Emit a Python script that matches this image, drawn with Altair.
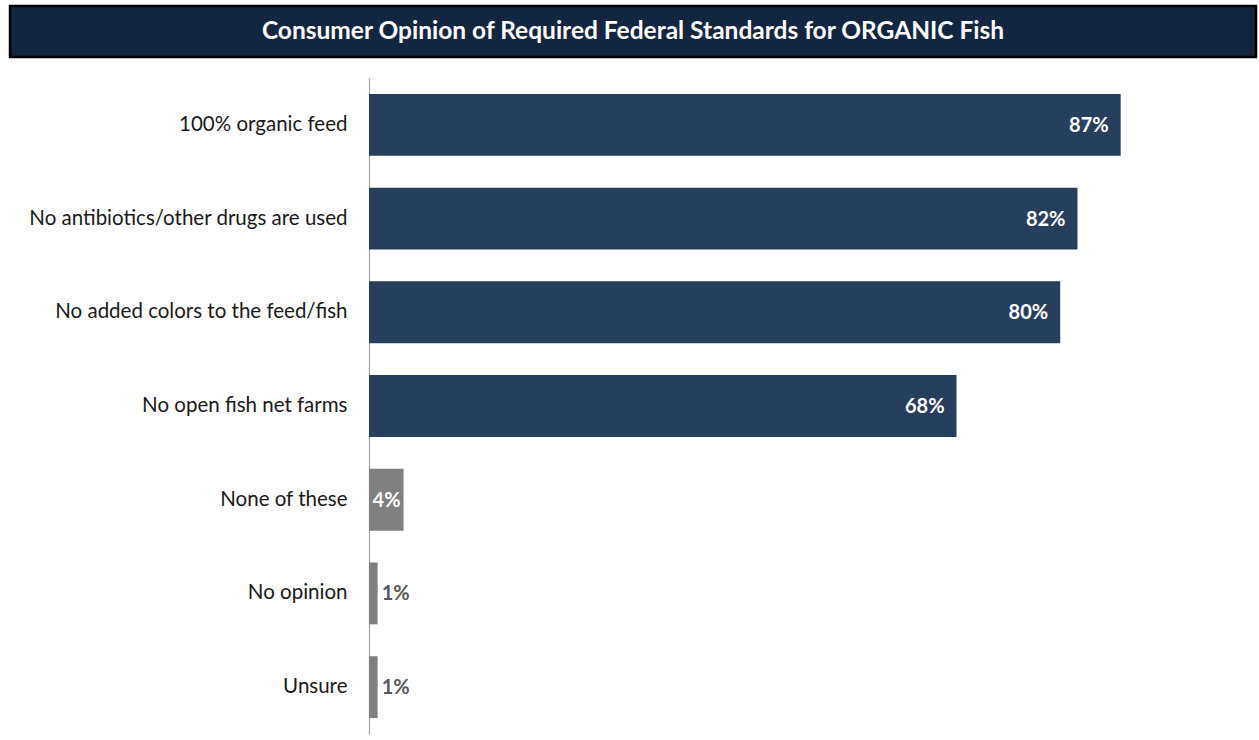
import altair as alt
import pandas as pd

categories = [
    "100% organic feed",
    "No antibiotics/other drugs are used",
    "No added colors to the feed/fish",
    "No open fish net farms",
    "None of these",
    "No opinion",
    "Unsure",
]
values = [87, 82, 80, 68, 4, 1, 1]
groups = ["standard", "standard", "standard", "standard", "other", "other", "other"]
title_text = "Consumer Opinion of Required Federal Standards for ORGANIC Fish"

df = pd.DataFrame({"category": categories, "value": values, "group": groups})
df["label"] = df["value"].astype(str) + "%"

FONT = "Lato"
W, H = 864, 656
LEFT, TOP = 369, 78

y_enc = alt.Y(
    "category:N",
    sort=categories,
    scale=alt.Scale(paddingInner=0.34, paddingOuter=0.17),
    axis=alt.Axis(
        title=None, ticks=False, labelFont=FONT, labelFontSize=20.5,
        labelColor="#1a1a1a", labelPadding=22, domainColor="#A6A6A6",
        domainWidth=1.2, labelLimit=400,
    ),
)
x_enc = alt.X("value:Q", scale=alt.Scale(domain=[0, 100]), axis=None)

base = alt.Chart(df)

bars = base.mark_bar().encode(
    y=y_enc,
    x=x_enc,
    color=alt.Color(
        "group:N",
        scale=alt.Scale(domain=["standard", "other"], range=["#263F5F", "#808080"]),
        legend=None,
    ),
)

yy = alt.Y("category:N", sort=categories)

big_inside = base.transform_filter("datum.value > 4").mark_text(
    align="right", baseline="middle", dx=-12, dy=1, font=FONT, fontSize=20,
    fontWeight="bold", color="white",
).encode(y=yy, x="value:Q", text="label:N")

inside_small = base.transform_filter("datum.value == 4").mark_text(
    align="right", baseline="middle", dx=-3, dy=1, font=FONT, fontSize=20,
    fontWeight="bold", color="white",
).encode(y=yy, x="value:Q", text="label:N")

outside = base.transform_filter("datum.value < 4").mark_text(
    align="left", baseline="middle", dx=4, dy=1, font=FONT, fontSize=20,
    fontWeight="bold", color="#595959",
).encode(y=yy, x="value:Q", text="label:N")

banner = alt.Chart(pd.DataFrame({"t": [title_text]})).mark_rect(
    color="#132641", stroke="black", strokeWidth=2.5,
).encode(
    x=alt.value(10 - LEFT), x2=alt.value(1256 - LEFT),
    y=alt.value(6 - TOP), y2=alt.value(57 - TOP),
)
banner_text = alt.Chart(pd.DataFrame({"t": [title_text]})).mark_text(
    font=FONT, fontSize=24.5, fontWeight="bold", color="white",
    align="center", baseline="middle",
).encode(
    x=alt.value((10 + 1256) / 2 - LEFT), y=alt.value(32 - TOP), text="t:N",
)

chart = alt.layer(bars, big_inside, inside_small, outside, banner, banner_text).properties(
    width=W, height=H,
    autosize=alt.AutoSizeParams(type="none"),
    padding={"left": LEFT, "top": TOP, "right": 1259 - LEFT - W, "bottom": 740 - TOP - H},
    background="white",
).configure_view(stroke=None)

chart.save("out.html", embed_options={"renderer": "svg", "actions": False})
